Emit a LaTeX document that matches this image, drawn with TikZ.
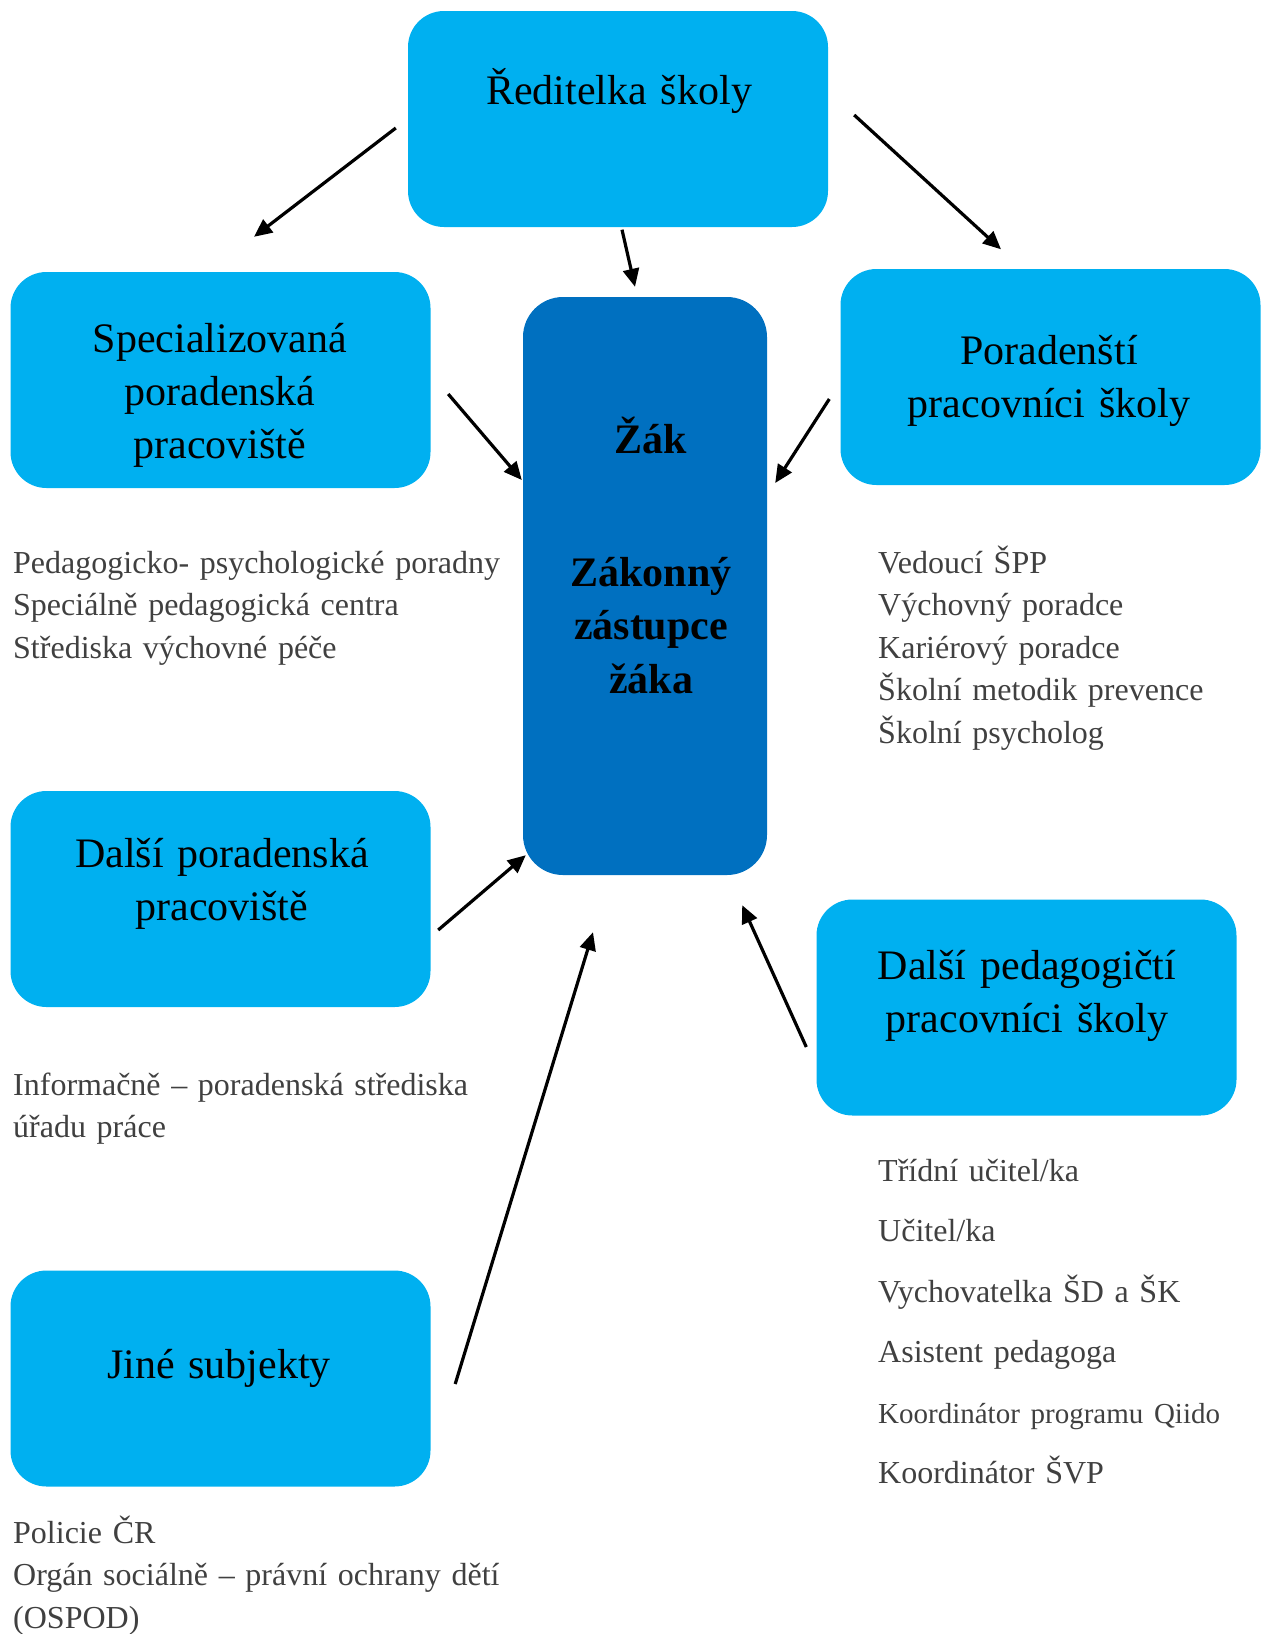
\documentclass[tikz,border=0pt]{standalone}
\usepackage{fontspec}
\setmainfont{Liberation Serif}
\usetikzlibrary{arrows.meta}
\definecolor{lightblue}{HTML}{00B0F0}
\definecolor{darkblue}{HTML}{0070C0}
\definecolor{listgray}{HTML}{404040}

\begin{document}
\begin{tikzpicture}
        [x=1pt,y=-1pt,
         box/.style={rectangle,rounded corners=36pt,fill=lightblue,minimum width=420pt,minimum height=216pt},
         zakbox/.style={rectangle,rounded corners=40pt,fill=darkblue,minimum width=244pt,minimum height=578pt},
         title/.style={inner sep=0pt,text width=400pt,align=center,anchor=base,font=\fontsize{42}{53}\selectfont},
         boldtitle/.style={title,text width=240pt,font=\fontsize{42}{53.5}\selectfont\bfseries},
         list/.style={inner sep=0pt,text width=560pt,align=left,anchor=base west,text=listgray,font=\fontsize{32}{42.5}\selectfont},
         rlist/.style={list,text width=382pt},
         arr/.style={line width=3.2pt,-{Triangle[length=18pt,width=16pt]}}]
      \useasboundingbox (0,0) rectangle (1262,1634);

      % boxes
      \node[box]    (dir) at (618,119)    {};
      \node[box]    (spp) at (220.5,380)  {};
      \node[box]    (ppi) at (1050.5,377) {};
      \node[box]    (dpp) at (220.5,899)  {};
      \node[box]    (dpi) at (1026.5,1007.5) {};
      \node[box]    (jin) at (220.5,1378.5) {};
      \node[zakbox] (zak) at (645,586)    {};

      % titles
      \node[title] (dirtext) at (619,104)  {Ředitelka školy};
      \node[title] (spptext) at (220,352)  {Specializovaná\\poradenská\\pracoviště};
      \node[title] (ppitext) at (1049,364) {Poradenští\\pracovníci školy};
      \node[title] (dpptext) at (222,867)  {Další poradenská\\pracoviště};
      \node[title] (dpitext) at (1027,979) {Další pedagogičtí\\pracovníci školy};
      \node[title] (jintext) at (219,1378) {Jiné subjekty};
      \node[boldtitle] (zaktext) at (651,453) {Žák};
      \node[boldtitle] (zzktext) at (651,586) {Zákonný\\zástupce\\žáka};

      % lists
      \node[list] (spplist) at (13,573)  {Pedagogicko- psychologické poradny\\Speciálně pedagogická centra\\Střediska výchovné péče};
      \node[rlist] (ppilist) at (878,573) {Vedoucí ŠPP\\Výchovný poradce\\Kariérový poradce\\Školní metodik prevence\\Školní psycholog};
      \node[list] (dpplist) at (13,1095) {Informačně – poradenská střediska\\úřadu práce};
      \node[rlist,font=\fontsize{32}{60.5}\selectfont] (dpilist) at (878,1181)
            {Třídní učitel/ka\\Učitel/ka\\Vychovatelka ŠD a ŠK\\Asistent pedagoga\\{\fontsize{29}{60.5}\selectfont Koordinátor programu Qiido}\\Koordinátor ŠVP};
      \node[list] (jinlist) at (13,1543) {Policie ČR\\Orgán sociálně – právní ochrany dětí\\(OSPOD)};

      % arrows
      \draw[arr] ([shift={(-12,9)}]dir.west)  -- ([shift={(33.5,-35)}]spp.north);
      \draw[arr] ([shift={(4,2.5)}]dir.south) -- ([shift={(-10,-10)}]zak.north);
      \draw[arr] ([shift={(26,-4)}]dir.east)  -- ([shift={(-49.5,-19.5)}]ppi.north);
      \draw[arr] ([shift={(17.5,14)}]spp.east) -- ([shift={(-1,-106)}]zak.west);
      \draw[arr] ([shift={(-11,22)}]ppi.west)  -- ([shift={(8,-103)}]zak.east);
      \draw[arr] ([shift={(7.5,31)}]dpp.east)  -- ([shift={(3,-20)}]zak.south west);
      \draw[arr] ([shift={(24.5,5.5)}]jin.east) -- ([shift={(-52,57)}]zak.south);
      \draw[arr] ([shift={(-10,39.5)}]dpi.west) -- ([shift={(-25,30)}]zak.south east);
\end{tikzpicture}
\end{document}
